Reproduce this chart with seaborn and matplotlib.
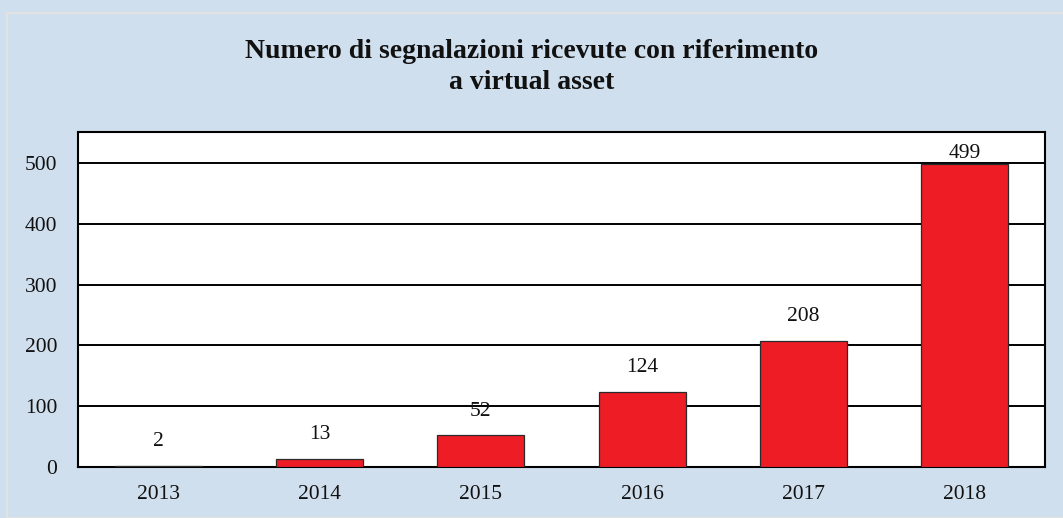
import pandas as pd
import matplotlib.pyplot as plt
import seaborn as sns
from matplotlib.patches import Rectangle

years = ['2013', '2014', '2015', '2016', '2017', '2018']
reports = [2, 13, 52, 124, 208, 499]
title = 'Numero di segnalazioni ricevute con riferimento\na virtual asset'

bg = '#d0dfed'
bar_color = '#ee1c25'

sns.set_theme(style='white')
plt.rcParams['font.family'] = ['Liberation Serif', 'DejaVu Serif']

df = pd.DataFrame({'year': years, 'n': reports})

fig = plt.figure(figsize=(10.63, 5.18), dpi=100, facecolor=bg)
fig.patches.append(Rectangle((7 / 1063, 0), 1, 1 - 13 / 518, transform=fig.transFigure,
                             fill=False, edgecolor='#e2e2e2', linewidth=1.5))
ax = fig.add_axes([78 / 1063, 1 - 467 / 518, (1045 - 78) / 1063, (467 - 132) / 518])

sns.barplot(data=df, x='year', y='n', color=bar_color, saturation=1, width=0.54,
            edgecolor='#2a2a2a', linewidth=0.9, ax=ax, zorder=3)

ax.set_ylim(0, 551)
ax.set_xlim(-0.5, 5.5)
ax.set_yticks([0, 100, 200, 300, 400, 500])
ax.yaxis.grid(True, color='black', linewidth=1.4, zorder=0)
ax.set_axisbelow(True)
for s in ax.spines.values():
    s.set_color('black')
    s.set_linewidth(1.5)
ax.tick_params(axis='both', length=0, labelsize=15.5, colors='#111111')
ax.tick_params(axis='x', pad=13)
ax.tick_params(axis='y', pad=15)
ax.set_xlabel('')
ax.set_ylabel('')

for i, v in enumerate(reports):
    ax.text(i, min(v + 40, 516), str(v), ha='center', va='center', fontsize=15.5, color='#111111')

fig.text(0.5, 1 - 67 / 518, title, ha='center', va='center', fontsize=20,
         fontweight='bold', color='#111111', linespacing=1.3)

fig.savefig('out.png', dpi=100, facecolor=bg)
